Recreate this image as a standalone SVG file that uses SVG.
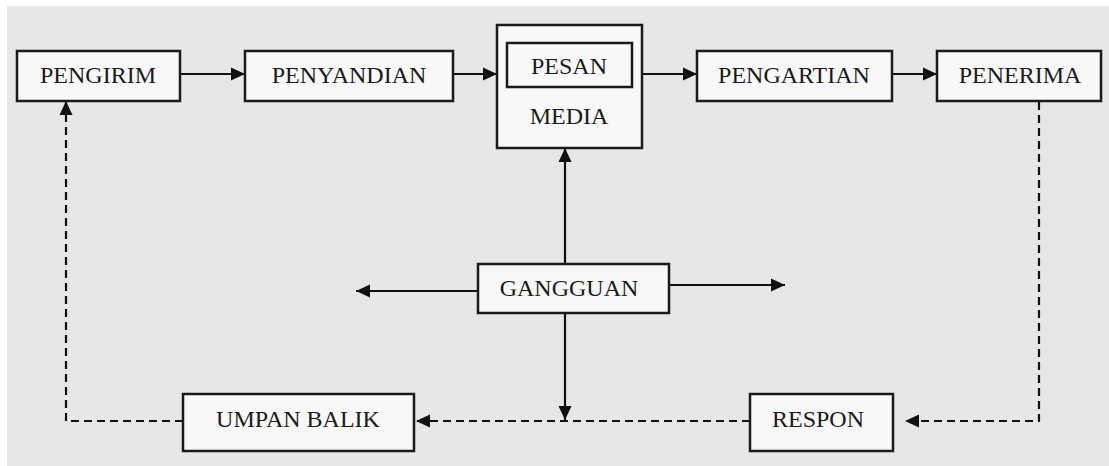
<svg xmlns="http://www.w3.org/2000/svg" width="1109" height="466" viewBox="0 0 1109 466">
<style>
.box{fill:#f8f8f8;stroke:#1a1a1a;stroke-width:2.5}
.lbl{font-family:"Liberation Serif","Times New Roman",serif;font-size:24px;fill:#1a1a1a;text-anchor:middle}
.ln{fill:none;stroke:#111;stroke-width:2.2}
.dash{stroke-dasharray:8 5}
</style>
<defs>
<marker id="ah" viewBox="0 0 14 14" refX="14" refY="7" markerWidth="14" markerHeight="14" orient="auto" markerUnits="userSpaceOnUse">
<path d="M0,0.5 L14,7 L0,13.5 z" fill="#111"/>
</marker>
</defs>
<rect x="0" y="0" width="1109" height="466" fill="#ffffff"/>
<rect x="7" y="6" width="1102" height="460" fill="#e7e7e7"/>
<g id="connectors">
<path class="ln" d="M180,74 H245" marker-end="url(#ah)"/>
<path class="ln" d="M453,74 H497" marker-end="url(#ah)"/>
<path class="ln" d="M642,74 H697" marker-end="url(#ah)"/>
<path class="ln" d="M892,74 H937" marker-end="url(#ah)"/>
<path class="ln" d="M565,264 V148" marker-end="url(#ah)"/>
<path class="ln" d="M478,291 H356" marker-end="url(#ah)"/>
<path class="ln" d="M669,285 H785" marker-end="url(#ah)"/>
<path class="ln" d="M565,313 V420" marker-end="url(#ah)"/>
<path class="ln dash" d="M1039,102 V421 H905" marker-end="url(#ah)"/>
<path class="ln dash" d="M750,421 H416" marker-end="url(#ah)"/>
<path class="ln dash" d="M183,421 H66 V101" marker-end="url(#ah)"/>
</g>
<g id="pengirim">
<rect class="box" x="17" y="51" width="163" height="50"/>
<text class="lbl" x="98" y="83">PENGIRIM</text>
</g>
<g id="penyandian">
<rect class="box" x="245" y="51" width="208" height="50"/>
<text class="lbl" x="349" y="83">PENYANDIAN</text>
</g>
<g id="media">
<rect class="box" x="497" y="25" width="145" height="123"/>
<text class="lbl" x="569" y="124">MEDIA</text>
</g>
<g id="pesan">
<rect class="box" x="507" y="43" width="125" height="44"/>
<text class="lbl" x="569" y="74">PESAN</text>
</g>
<g id="pengartian">
<rect class="box" x="697" y="51" width="195" height="50"/>
<text class="lbl" x="794" y="83">PENGARTIAN</text>
</g>
<g id="penerima">
<rect class="box" x="937" y="51" width="164" height="50"/>
<text class="lbl" x="1020" y="83">PENERIMA</text>
</g>
<g id="gangguan">
<rect class="box" x="478" y="264" width="191" height="49"/>
<text class="lbl" x="569" y="296">GANGGUAN</text>
</g>
<g id="umpan-balik">
<rect class="box" x="183" y="394" width="231" height="57"/>
<text class="lbl" x="298" y="427">UMPAN BALIK</text>
</g>
<g id="respon">
<rect class="box" x="750" y="394" width="143" height="57"/>
<text class="lbl" x="818" y="427">RESPON</text>
</g>
</svg>
